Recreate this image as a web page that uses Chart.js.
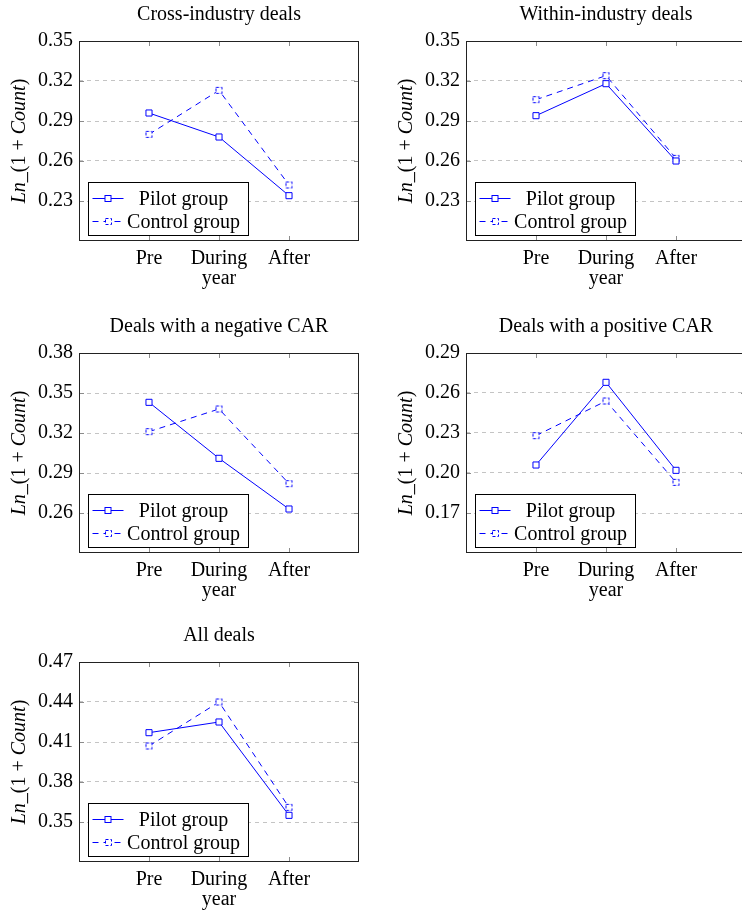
<!DOCTYPE html>
<html>
<head>
<meta charset="utf-8">
<script src="https://cdn.jsdelivr.net/npm/chart.js@4.4.0/dist/chart.umd.min.js"></script>
<style>
    html, body { margin: 0; padding: 0; background: #fff; overflow: hidden; width: 742px; height: 910px; }
    .panel { position: absolute; width: 387px; height: 300px; }
</style>
</head>
<body>
<div class="panel" style="left:0px;top:0px"><canvas id="c0" width="387" height="300"></canvas></div>
<div class="panel" style="left:387px;top:0px"><canvas id="c1" width="387" height="300"></canvas></div>
<div class="panel" style="left:0px;top:312px"><canvas id="c2" width="387" height="300"></canvas></div>
<div class="panel" style="left:387px;top:312px"><canvas id="c3" width="387" height="300"></canvas></div>
<div class="panel" style="left:0px;top:621px"><canvas id="c4" width="387" height="300"></canvas></div>
<script>
// x categories (multi-line tick labels)
const periods = [['Pre'], ['During', 'year'], ['After']];
const seriesNames = ['Pilot group', 'Control group'];
const yTitleParts = [['Ln', true], ['_', false], ['(1 + ', false], ['Count', true], [')', false]];

const panelTitles = [
    'Cross-industry deals',
    'Within-industry deals',
    'Deals with a negative CAR',
    'Deals with a positive CAR',
    'All deals'
];

// values
const pilotCross = [0.296, 0.278, 0.234];
const controlCross = [0.280, 0.313, 0.242];
const pilotWithin = [0.294, 0.318, 0.260];
const controlWithin = [0.306, 0.324, 0.262];
const pilotNeg = [0.343, 0.301, 0.263];
const controlNeg = [0.321, 0.338, 0.282];
const pilotPos = [0.206, 0.268, 0.202];
const controlPos = [0.228, 0.254, 0.193];
const pilotAll = [0.417, 0.425, 0.355];
const controlAll = [0.407, 0.440, 0.361];

// y tick labels per panel
const ticksCross = [0.23, 0.26, 0.29, 0.32, 0.35];
const ticksWithin = [0.23, 0.26, 0.29, 0.32, 0.35];
const ticksNeg = [0.26, 0.29, 0.32, 0.35, 0.38];
const ticksPos = [0.17, 0.20, 0.23, 0.26, 0.29];
const ticksAll = [0.35, 0.38, 0.41, 0.44, 0.47];

const yMins = [0.20, 0.20, 0.23, 0.14, 0.32];

const panels = [
    { pilot: pilotCross, control: controlCross, ticks: ticksCross },
    { pilot: pilotWithin, control: controlWithin, ticks: ticksWithin },
    { pilot: pilotNeg, control: controlNeg, ticks: ticksNeg },
    { pilot: pilotPos, control: controlPos, ticks: ticksPos },
    { pilot: pilotAll, control: controlAll, ticks: ticksAll }
];

const BLUE = 'rgb(0,0,255)';
const FONT = '"Liberation Serif", "Times New Roman", serif';

// dashed square marker for the control group
function dashedSquare() {
    const c = document.createElement('canvas');
    c.width = 9; c.height = 9;
    const g = c.getContext('2d');
    g.fillStyle = '#fff';
    g.fillRect(1.5, 1.5, 6, 6);
    g.strokeStyle = BLUE;
    g.lineWidth = 1;
    g.setLineDash([3, 2]);
    g.strokeRect(1.5, 1.5, 6, 6);
    return c;
}
const controlMarker = dashedSquare();

const framePlugin = {
    id: 'frame',
    beforeDatasetsDraw(chart) {
        const { ctx, chartArea: a, scales } = chart;
        ctx.save();
        ctx.strokeStyle = '#8c8c8c';
        ctx.lineWidth = 1;
        ctx.beginPath();
        scales.x.ticks.forEach(t => {
            const x = Math.round(scales.x.getPixelForValue(t.value)) + 0.5;
            ctx.moveTo(x, a.top); ctx.lineTo(x, a.top + 5);
            ctx.moveTo(x, a.bottom); ctx.lineTo(x, a.bottom - 5);
        });
        scales.y.ticks.forEach(t => {
            const y = Math.round(scales.y.getPixelForValue(t.value)) + 0.5;
            ctx.moveTo(a.left, y); ctx.lineTo(a.left + 5, y);
            ctx.moveTo(a.right, y); ctx.lineTo(a.right - 5, y);
        });
        ctx.stroke();
        ctx.strokeStyle = '#222';
        ctx.strokeRect(a.left + 0.5, a.top + 0.5, a.right - a.left - 1, a.bottom - a.top - 1);
        ctx.restore();
    },
    afterDatasetsDraw(chart) {
        // legend box, lower left inside the plot
        const { ctx, chartArea: a } = chart;
        const bx = Math.round(a.left + 9) + 0.5, bh = 53, bw = 160;
        const by = Math.round(a.bottom - 6 - bh) + 0.5;
        ctx.save();
        ctx.fillStyle = '#fff';
        ctx.strokeStyle = '#000';
        ctx.lineWidth = 1;
        ctx.fillRect(bx, by, bw, bh);
        ctx.strokeRect(bx, by, bw, bh);
        chart.data.datasets.forEach((ds, i) => {
            const y = Math.round(by + 15 + i * 23.3) + 0.5;
            ctx.strokeStyle = ds.borderColor;
            ctx.setLineDash(ds.borderDash || []);
            ctx.beginPath();
            ctx.moveTo(bx + 4, y); ctx.lineTo(bx + 35, y);
            ctx.stroke();
            ctx.setLineDash([]);
            const mx = bx + 19.5;
            if (ds.pointStyle instanceof HTMLCanvasElement) {
                ctx.drawImage(ds.pointStyle, Math.round(mx - 4.5), Math.round(y - 4.5));
            } else {
                ctx.fillStyle = '#fff';
                ctx.fillRect(mx - 3, y - 3, 6, 6);
                ctx.strokeRect(mx - 3, y - 3, 6, 6);
            }
            ctx.fillStyle = '#000';
            ctx.font = '20px ' + FONT;
            ctx.textBaseline = 'middle';
            ctx.textAlign = 'center';
            ctx.fillText(ds.label, bx + 95, y + 1);
        });
        ctx.restore();
    },
    afterDraw(chart, args, opts) {
        const { ctx, chartArea: a } = chart;
        ctx.save();
        ctx.fillStyle = '#000';
        ctx.font = '20px ' + FONT;
        ctx.textAlign = 'center';
        ctx.textBaseline = 'alphabetic';
        ctx.fillText(opts.title, (a.left + a.right) / 2, a.top - 21.5);

        // y axis title with italic parts
        ctx.translate(25, (a.top + a.bottom) / 2);
        ctx.rotate(-Math.PI / 2);
        ctx.textAlign = 'left';
        let total = 0;
        yTitleParts.forEach(([t, it]) => {
            ctx.font = (it ? 'italic ' : '') + '20px ' + FONT;
            total += ctx.measureText(t).width;
        });
        let x = -total / 2;
        yTitleParts.forEach(([t, it]) => {
            ctx.font = (it ? 'italic ' : '') + '20px ' + FONT;
            ctx.fillText(t, x, 0);
            x += ctx.measureText(t).width;
        });
        ctx.restore();
    }
};

function buildChart(idx) {
    const p = panels[idx];
    const yMax = p.ticks[p.ticks.length - 1];
    const ctx = document.getElementById('c' + idx).getContext('2d');
    return new Chart(ctx, {
        type: 'line',
        data: {
            datasets: [
                {
                    label: seriesNames[0],
                    data: p.pilot.map((v, i) => ({ x: i + 1, y: v })),
                    borderColor: BLUE,
                    borderWidth: 1,
                    pointStyle: 'rect',
                    pointRadius: 4.3,
                    pointBackgroundColor: '#fff',
                    pointBorderColor: BLUE,
                    pointBorderWidth: 1,
                    tension: 0
                },
                {
                    label: seriesNames[1],
                    data: p.control.map((v, i) => ({ x: i + 1, y: v })),
                    borderColor: BLUE,
                    borderWidth: 1,
                    borderDash: [6, 5],
                    pointStyle: controlMarker,
                    pointRadius: 4.3,
                    pointBackgroundColor: '#fff',
                    pointBorderColor: BLUE,
                    tension: 0
                }
            ]
        },
        options: {
            responsive: false,
            animation: false,
            events: [],
            layout: { padding: { left: 0, right: 28, top: 41, bottom: 9 } },
            plugins: {
                legend: { display: false },
                tooltip: { enabled: false },
                frame: { title: panelTitles[idx] }
            },
            scales: {
                x: {
                    type: 'linear',
                    min: 0,
                    max: 4,
                    afterBuildTicks: s => { s.ticks = periods.map((_, i) => ({ value: i + 1 })); },
                    afterFit: s => { s.height = 50; },
                    grid: { display: false },
                    border: { display: false },
                    ticks: {
                        padding: 0,
                        color: '#000',
                        maxRotation: 0,
                        autoSkip: false,
                        font: { family: FONT, size: 20, lineHeight: 1.0 },
                        callback: v => periods[v - 1]
                    }
                },
                y: {
                    min: yMins[idx],
                    max: yMax,
                    afterBuildTicks: s => { s.ticks = p.ticks.map(v => ({ value: v })); },
                    afterFit: s => { s.width = 79; },
                    grid: { color: '#c4c4c4', lineWidth: 1, drawTicks: false },
                    border: { display: false, dash: [4, 4] },
                    ticks: {
                        padding: 6,
                        color: '#000',
                        font: { family: FONT, size: 20 },
                        callback: v => v.toFixed(2)
                    }
                }
            }
        },
        plugins: [framePlugin]
    });
}

panels.forEach((_, i) => buildChart(i));
</script>
</body>
</html>
